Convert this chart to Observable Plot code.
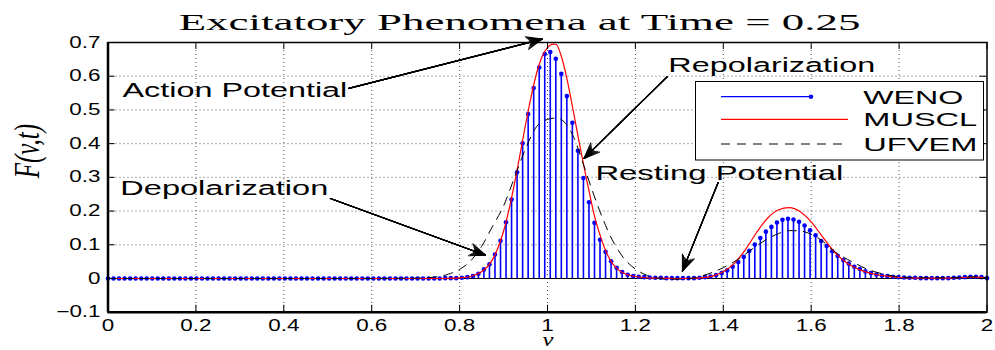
<!DOCTYPE html>
<html><head><meta charset="utf-8">
<script src="https://cdn.jsdelivr.net/npm/d3@7"></script>
<script src="https://cdn.jsdelivr.net/npm/@observablehq/plot@0.6"></script>
<style>
body{margin:0;background:#fff;}
#chart{position:relative;width:995px;height:350px;}
</style></head><body><div id="chart"></div>
<script>
// WENO stem values on a uniform grid over [0, 2] (160 nodes)
const wenoY = [
  0,0,0,0,0,0,0,0,0,0,
  0,0,0,0,0,0,0,0,0,0,
  0,0,0,0,0,0,0,0,0,0,
  0,0,0,0,0,0,0,0,0,0,
  0,0,0,0,0,0,0,0,0,0,
  0,0,0,0,0,0,0,0,0,0,
  0,.001,.001,.001,.002,.004,.007,.014,.027,.042,
  .071,.112,.167,.234,.315,.401,.488,.565,.626,.666,
  .672,.652,.607,.541,.462,.379,.298,.226,.165,.115,
  .079,.051,.032,.019,.011,.007,.005,.004,.003,.002,
  .002,.001,.001,.001,.001,.001,.001,.002,.004,.006,
  .010,.016,.024,.035,.049,.064,.082,.101,.120,.139,
  .153,.166,.174,.177,.175,.168,.157,.143,.128,.111,
  .096,.081,.067,.055,.044,.035,.028,.021,.016,.012,
  .009,.007,.005,.004,.003,.002,.002,.001,.001,.001,
  .001,.001,.001,.002,.003,.004,.005,.005,.004,.001
];
const wenoX = d3.range(wenoY.length).map(k => 2 * k / (wenoY.length - 1));

// MUSCL (solid red)
const musclX = [0,0.5,0.7,0.75,0.8,0.825,0.85,0.8625,0.875,0.8875,
  0.9,0.9125,0.925,0.9375,0.95,0.9625,0.975,0.9875,1.0,1.0125,
  1.02,1.03,1.045,1.0575,1.07,1.0825,1.095,1.1075,1.12,1.1325,
  1.145,1.1575,1.17,1.19,1.22,1.25,1.3,1.35,1.375,1.4,
  1.425,1.45,1.475,1.5,1.525,1.55,1.575,1.6,1.625,1.65,
  1.675,1.7,1.725,1.75,1.775,1.8,1.85,1.9,1.95,1.975,2.0];
const musclY = [0,0,0,0,.002,.006,.020,.034,.056,.092,
  .140,.205,.282,.368,.456,.538,.608,.658,.685,.695,
  .694,.665,.588,.505,.418,.335,.256,.182,.127,.082,
  .050,.030,.018,.008,.003,.001,0,.002,.007,.020,
  .045,.085,.135,.178,.203,.210,.198,.168,.125,.083,
  .052,.032,.019,.011,.006,.003,.001,.001,.003,.004,.001];

// UFVEM (black dashed)
const ufvemX = [0,0.5,0.7,0.75,0.775,0.8,0.825,0.85,0.875,0.9,
  0.925,0.95,0.975,1.0,1.02,1.04,1.06,1.08,1.1,1.125,
  1.15,1.175,1.2,1.225,1.25,1.275,1.3,1.325,1.35,1.375,
  1.4,1.425,1.45,1.475,1.5,1.525,1.55,1.575,1.6,1.625,
  1.65,1.675,1.7,1.725,1.75,1.775,1.8,1.85,1.9,1.95,1.975,2.0];
const ufvemY = [0,0,.001,.005,.013,.027,.052,.095,.155,.215,
  .300,.385,.450,.472,.476,.462,.418,.345,.268,.180,
  .108,.058,.028,.010,.001,-.002,-.002,0,.007,.018,
  .032,.050,.072,.096,.117,.133,.142,.141,.131,.112,
  .083,.062,.045,.029,.018,.010,.005,.002,.002,.004,.005,.002];

// Axes
const xTicks = [0,0.2,0.4,0.6,0.8,1,1.2,1.4,1.6,1.8,2];
const yTicks = [-0.1,0,0.1,0.2,0.3,0.4,0.5,0.6,0.7];
const xGrid = [0.2,0.4,0.6,0.8,1,1.2,1.4,1.6,1.8];
const yGrid = [0,0.1,0.2,0.3,0.4,0.5,0.6];

// Titles
const titleText = "Excitatory Phenomena at Time = 0.25";
const yLabel = "F(v,t)";
const xLabel = "v";

// Annotations
const annLabels = ["Action Potential","Repolarization","Resting Potential","Depolarization"];
const annTextX = [0.033,1.275,1.109,0.028];
const annTextY = [0.559,0.632,0.311,0.267];
const annWidth = [225,207,248,208];
const arrowTailX = [0.548,1.272,1.388,0.506];
const arrowTailY = [0.564,0.598,0.284,0.237];
const arrowTipX = [0.988,1.083,1.307,0.859];
const arrowTipY = [0.710,0.356,0.022,0.069];

// Legend
const legendNames = ["WENO","MUSCL","UFVEM"];
const legendWidth = [100,114,114];

const BLUE = "#0000ff", RED = "#ff0000";
const fmt = d => (Math.round(d * 10) / 10).toString().replace("-", "\u2212");

const fan = [[44,17],[36,15.5],[28,14],[20,13],[12,12.3],[4,12]];
const arrowMarks = fan.map(([a, len]) => Plot.arrow(arrowTipX, {
  x1: (d, i) => arrowTailX[i], y1: (d, i) => arrowTailY[i],
  x2: (d, i) => arrowTipX[i], y2: (d, i) => arrowTipY[i],
  stroke: "black", strokeWidth: 1.1, headAngle: a, headLength: len * 1.5 / 1.1
}));

const svg = Plot.plot({
  width: 995, height: 350,
  marginLeft: 107.5, marginRight: 8.5, marginTop: 42, marginBottom: 38.3,
  style: {background: "white", fontFamily: "Liberation Sans", fontSize: "16px", color: "black", overflow: "visible"},
  x: {domain: [0, 2], ticks: xTicks, tickSize: 0, tickPadding: 7.6, tickFormat: fmt, label: null},
  y: {domain: [-0.1, 0.7], ticks: yTicks, tickSize: 0, tickPadding: 7.5, tickFormat: fmt, label: null},
  marks: [
    Plot.ruleX(xGrid, {x: d => d, stroke: "#000", strokeOpacity: 0.65, strokeDasharray: "1,3"}),
    Plot.ruleY(yGrid, {y: d => d, stroke: "#000", strokeOpacity: 0.65, strokeDasharray: "1,3"}),
    Plot.ruleY([0], {y: d => d, stroke: "#000", strokeWidth: 1}),
    Plot.ruleX(wenoY, {x: (d, i) => wenoX[i], y1: 0, y2: d => d, stroke: BLUE, strokeWidth: 1.6}),
    Plot.dot(wenoY, {x: (d, i) => wenoX[i], y: d => d, r: 2.3, fill: BLUE, stroke: null}),
    Plot.line(musclY, {x: (d, i) => musclX[i], y: d => d, stroke: RED, strokeWidth: 1.2, curve: "monotone-x"}),
    Plot.line(ufvemY, {x: (d, i) => ufvemX[i], y: d => d, stroke: "#000", strokeWidth: 1, strokeDasharray: "9,7", curve: "monotone-x"}),
    Plot.frame({stroke: "#000", strokeWidth: 1.5}),
    Plot.ruleX([0], {x: d => d, stroke: "#000", strokeWidth: 2.5}),
    Plot.ruleY([-0.1], {y: d => d, stroke: "#000", strokeWidth: 2.5}),
    Plot.ruleX(xTicks, {x: d => d, y1: -0.1, y2: -0.1, insetBottom: 7, stroke: "#000"}),
    Plot.ruleX(xTicks, {x: d => d, y1: 0.7, y2: 0.7, insetTop: 7, stroke: "#000"}),
    Plot.ruleY(yTicks, {y: d => d, x1: 0, x2: 0, insetLeft: 7, stroke: "#000"}),
    Plot.ruleY(yTicks, {y: d => d, x1: 2, x2: 2, insetRight: 7, stroke: "#000"}),
    ...arrowMarks,
    Plot.text(annLabels, {x: (d, i) => annTextX[i], y: (d, i) => annTextY[i], text: d => d,
      textAnchor: "start", lineAnchor: "middle", fontSize: 21, fontFamily: "Liberation Sans", fill: "#000"}),
    Plot.text([titleText], {text: d => d, frameAnchor: "top", dx: -28, dy: -20.4,
      lineAnchor: "middle", fontSize: 24, fontFamily: "Liberation Serif", fill: "#000"}),
    Plot.text([yLabel], {text: d => d, frameAnchor: "left", dx: -80, dy: 1, rotate: -90,
      lineAnchor: "middle", fontSize: 25, fontFamily: "Liberation Serif", fontStyle: "italic", fill: "#000"}),
    Plot.text([xLabel], {text: d => d, frameAnchor: "bottom", dx: 0.5, dy: 28,
      lineAnchor: "middle", fontSize: 19, fontFamily: "Liberation Serif", fontStyle: "italic", fill: "#000"})
  ]
});
document.getElementById("chart").append(svg);

function stretch(el, sx, sy = 1) {
  const x = el.getAttribute("x");
  let t = el.getAttribute("transform") || "";
  if (x !== null) { el.removeAttribute("x"); t += ` translate(${x},0)`; }
  el.setAttribute("transform", (t + ` scale(${sx},${sy})`).trim());
}
function fit(el, w) {
  const n = el.getComputedTextLength();
  if (n > 0) stretch(el, w / n);
}
Array.from(svg.querySelectorAll("text")).forEach(el => {
  const s = el.textContent;
  const ai = annLabels.indexOf(s);
  if (ai >= 0) fit(el, annWidth[ai]);
  else if (s === titleText) fit(el, 682);
  else if (s === yLabel) stretch(el, 1, 1.4);
  else if (s === xLabel) stretch(el, 1.3);
  else if (/^[\u2212\-0-9.]+$/.test(s)) stretch(el, 1.4);
});

// Legend box
const lg = d3.select(svg).append("g").attr("aria-label", "legend");
lg.append("rect").attr("x", 695.5).attr("y", 81.5).attr("width", 288).attr("height", 78.5)
  .attr("fill", "white").attr("stroke", "black").attr("stroke-width", 1);
const rowY = [96.7, 119.3, 144];
lg.append("line").attr("x1", 721).attr("x2", 811).attr("y1", rowY[0]).attr("y2", rowY[0]).attr("stroke", BLUE).attr("stroke-width", 1.2);
lg.append("circle").attr("cx", 811).attr("cy", rowY[0]).attr("r", 2.3).attr("fill", BLUE);
lg.append("line").attr("x1", 721).attr("x2", 848).attr("y1", rowY[1]).attr("y2", rowY[1]).attr("stroke", RED).attr("stroke-width", 1.2);
lg.append("line").attr("x1", 721).attr("x2", 848).attr("y1", rowY[2]).attr("y2", rowY[2]).attr("stroke", "#000").attr("stroke-width", 1).attr("stroke-dasharray", "9,7");
legendNames.forEach((name, i) => {
  const t = lg.append("text").attr("x", 863.3).attr("y", rowY[i] + 7).attr("text-anchor", "start")
    .attr("font-family", "Liberation Sans").attr("font-size", 19).attr("fill", "#000").text(name);
  fit(t.node(), legendWidth[i]);
});
</script>
</body></html>
